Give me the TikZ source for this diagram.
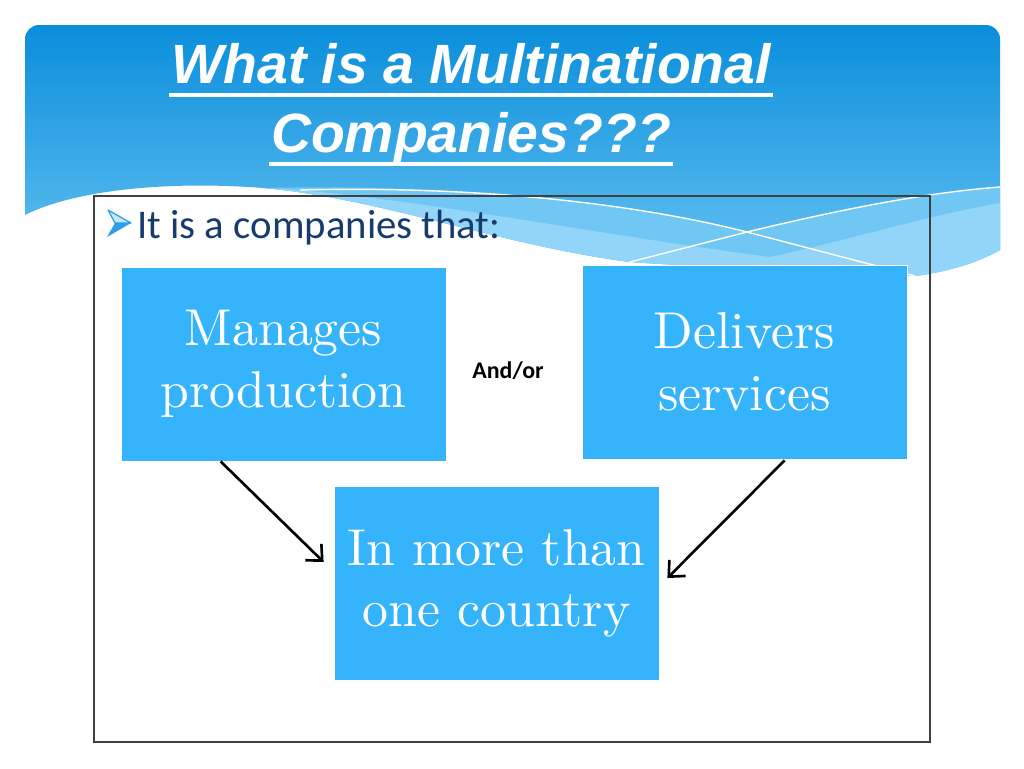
\documentclass[tikz,border=0pt]{standalone}
\usepackage{fontspec}
\newfontfamily\titlefont{Liberation Sans}
\newfontfamily\bodyfont{Carlito}
\newfontfamily\boxfont{lmroman10-regular}[Extension=.otf]
\usetikzlibrary{arrows.meta,calc}
\definecolor{bTop}{HTML}{0A8EDB}
\definecolor{bBot}{HTML}{66C2F2}
\definecolor{bMid}{HTML}{70C7F4}
\definecolor{bLight}{HTML}{93D5F8}
\definecolor{boxBlue}{HTML}{35B4FC}
\definecolor{navy}{HTML}{173B6F}
\definecolor{bulletDark}{HTML}{2C9EE8}
\definecolor{bulletLight}{HTML}{C4E7FB}
\definecolor{frameGray}{HTML}{404040}
\definecolor{shadowGray}{HTML}{7A7A7A}
\begin{document}
\begin{tikzpicture}[x=0.02cm,y=-0.02cm,
  blockbox/.style={fill=boxBlue, draw=white, line width=0.5pt,
    minimum width=6.5cm, minimum height=3.88cm, inner sep=0pt,
    align=center, text=white, font=\boxfont\fontsize{29.5}{35}\selectfont},
  titletext/.style={anchor=base, inner sep=0pt, text=white,
    font=\titlefont\bfseries\itshape\fontsize{31.5}{36}\selectfont},
  underl/.style={white, line width=1.8pt},
  conn/.style={line width=1.5pt, black, -{Straight Barb[length=7pt,width=13pt]}},
  wline/.style={white, line width=0.8pt}]
\useasboundingbox (0,0) rectangle (1024,768);
\fill[white] (0,0) rectangle (1024,768);
% banner
\shade[top color=bTop, bottom color=bBot] (25,215) [rounded corners=8] -- (25,25) -- (1000,25) [sharp corners] -- (1000,250)
  .. controls (975,264) and (945,272) .. (915,276)
  .. controls (820,272) and (720,268) .. (630,262)
  .. controls (500,245) and (380,198) .. (263,188)
  .. controls (160,180) and (70,192) .. (25,215) -- cycle;
\fill[bMid] (263,188) .. controls (450,184) and (620,200) .. (747,232)
  .. controls (830,212) and (920,193) .. (1000,187) -- (1000,250)
  .. controls (975,264) and (945,272) .. (915,276)
  .. controls (820,272) and (720,268) .. (630,262)
  .. controls (500,245) and (380,198) .. (263,188) -- cycle;
\fill[bLight] (263,188) .. controls (380,192) and (600,235) .. (770,257)
  .. controls (850,240) and (930,215) .. (1000,203) -- (1000,250)
  .. controls (975,264) and (945,272) .. (915,276)
  .. controls (820,272) and (720,268) .. (630,262)
  .. controls (500,245) and (380,198) .. (263,188) -- cycle;
\draw[wline] (300,190) .. controls (460,186) and (620,200) .. (747,232) -- (915,276);
\draw[wline] (630,262) -- (747,232) .. controls (830,212) and (920,193) .. (1000,187);
% title
\node[titletext] (t1) at (471,83) {What is a Multinational};
\node[titletext] (t2) at (471,152) {Companies???};
\draw[underl] ($(t1.base west)+(-2,12)$) -- ($(t1.base east)+(2,12)$);
\draw[underl] ($(t2.base west)+(-2,12)$) -- ($(t2.base east)+(2,12)$);
% content frame
\draw[shadowGray, line width=1.3pt] (930,197) -- (930,742) -- (94,742);
\draw[frameGray, line width=0.6pt] (94,196) rectangle (930,742);
% bullet
\fill[bulletLight] (108,210) -- (131,223) -- (115,223) -- cycle;
\draw[bulletDark, line width=0.7pt, line join=round] (108,210) -- (131,223) -- (115,223) -- cycle;
\fill[bulletDark] (115,223) -- (131,223) -- (107,237) -- cycle;
\node[anchor=base west, inner sep=0pt, text=navy, font=\bodyfont\fontsize{23.2}{26}\selectfont] (bl) at (137,238) {It is a companies that:};
% boxes
\node[blockbox] (m) at (283.5,364) {Manages\\production};
\node[blockbox] (d) at (744.5,362) {Delivers\\services};
\node[blockbox] (c) at (496.5,583.5) {In more than\\one country};
\node[anchor=base, inner sep=0pt, font=\bodyfont\bfseries\fontsize{13.6}{16}\selectfont] (ao) at (508,378) {And/or};
% connectors
\draw[conn] ($(m.south west)+(100,0)$) -- ($(c.west)+(-10,-21.5)$);
\draw[conn] ($(d.south west)+(203,1)$) -- ($(c.east)+(8,-5.5)$);
\end{tikzpicture}
\end{document}
